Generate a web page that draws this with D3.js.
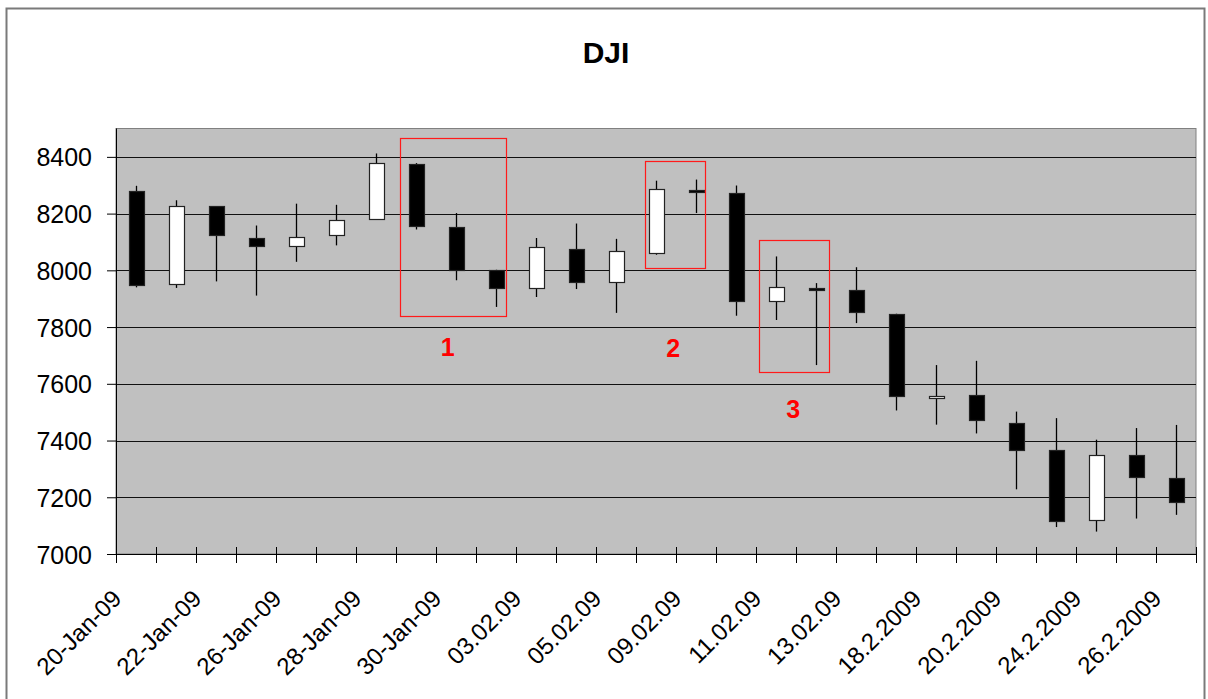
<!DOCTYPE html>
<html>
<head>
<meta charset="utf-8">
<script src="https://cdn.jsdelivr.net/npm/d3@7"></script>
<style>
  html, body { margin: 0; padding: 0; background: #fff; }
  svg { display: block; font-family: Arial, "Liberation Sans", sans-serif; }
</style>
</head>
<body>
<svg id="chart" width="1208" height="699"></svg>
<script>
// Trading days shown on the category axis
const categories = [
  "20-Jan-09", "21-Jan-09", "22-Jan-09", "23-Jan-09", "26-Jan-09", "27-Jan-09",
  "28-Jan-09", "29-Jan-09", "30-Jan-09", "02.02.09", "03.02.09", "04.02.09",
  "05.02.09", "06.02.09", "09.02.09", "10.02.09", "11.02.09", "12.02.09",
  "13.02.09", "17.2.2009", "18.2.2009", "19.2.2009", "20.2.2009", "23.2.2009",
  "24.2.2009", "25.2.2009", "26.2.2009"
];

// Daily open / high / low / close of the index
const openVals  = [8280, 7952, 8226, 8114, 8086, 8125, 8183, 8375, 8153, 8000, 7938, 8075, 7958, 8061,
                   8284, 8273, 7892, 7936, 7932, 7847, 7551, 7559, 7463, 7365, 7121, 7350, 7269];
const highVals  = [8298, 8247, 8226, 8158, 8235, 8231, 8412, 8378, 8202, 8002, 8114, 8165, 8111, 8316,
                   8320, 8299, 8049, 7955, 8011, 7847, 7666, 7681, 7502, 7479, 7403, 7444, 7455];
const lowVals   = [7940, 7938, 7961, 7911, 8030, 8088, 8180, 8144, 7965, 7871, 7906, 7934, 7850, 8055,
                   8202, 7840, 7825, 7666, 7814, 7506, 7456, 7425, 7228, 7095, 7079, 7125, 7138];
const closeVals = [7950, 8228, 8124, 8086, 8118, 8178, 8379, 8155, 8002, 7938, 8083, 7960, 8067, 8285,
                   8276, 7892, 7940, 7932, 7853, 7558, 7558, 7472, 7368, 7116, 7350, 7273, 7185];

// Value axis
const yTicks = [7000, 7200, 7400, 7600, 7800, 8000, 8200, 8400];
const yDomain = [7000, 8500];

// Category labels printed under the axis (every second day)
const xTickLabels = [
  "20-Jan-09", "22-Jan-09", "26-Jan-09", "28-Jan-09", "30-Jan-09", "03.02.09", "05.02.09",
  "09.02.09", "11.02.09", "13.02.09", "18.2.2009", "20.2.2009", "24.2.2009", "26.2.2009"
];

// Highlighted groups: category span [from, to] and value span [top, bottom]
const boxFrom   = [7.1, 13.23, 16.08];
const boxTo     = [9.74, 14.72, 17.83];
const boxTop    = [8467, 8386, 8107];
const boxBottom = [7838, 8008, 7640];
const boxNames  = ["1", "2", "3"];
const boxNameAt = [8.29, 13.93, 16.93];
const boxNameY  = [7697, 7696, 7481];

const svg = d3.select("#chart");
const W = 1208, H = 699;
const plot = { left: 116, right: 1196, top: 128.5, bottom: 554 };

// Chart frame
svg.append("rect")
  .attr("x", 6.5).attr("y", 8.5).attr("width", 1198).attr("height", 700)
  .attr("fill", "#fff").attr("stroke", "#7a7a7a").attr("stroke-width", 2);

// Title
svg.append("text")
  .attr("x", 606).attr("y", 63)
  .attr("text-anchor", "middle")
  .attr("font-size", 30).attr("font-weight", "bold")
  .text("DJI");

const x = d3.scaleBand().domain(categories).range([plot.left, plot.right]).paddingInner(0).paddingOuter(0);
const xc = d3.scaleLinear().domain([0, categories.length]).range([plot.left, plot.right]);
const y = d3.scaleLinear().domain(yDomain).range([plot.bottom, plot.top]);

// Plot area
svg.append("rect")
  .attr("x", plot.left).attr("y", plot.top)
  .attr("width", plot.right - plot.left).attr("height", plot.bottom - plot.top)
  .attr("fill", "#c0c0c0").attr("stroke", "#808080").attr("stroke-width", 1);

// Horizontal gridlines
svg.append("g")
  .selectAll("line")
  .data(yTicks.filter(v => v > yDomain[0]))
  .join("line")
  .attr("x1", plot.left).attr("x2", plot.right)
  .attr("y1", d => Math.round(y(d)) + 0.5).attr("y2", d => Math.round(y(d)) + 0.5)
  .attr("stroke", "#111").attr("stroke-width", 1);

// Value axis
const yAxis = svg.append("g")
  .attr("transform", `translate(${plot.left},0)`)
  .call(d3.axisLeft(y).tickValues(yTicks).tickSize(9).tickSizeOuter(0).tickPadding(15).tickFormat(d3.format("d")));
yAxis.select(".domain").attr("stroke", "#000").attr("d", `M0.5,${plot.top}V${plot.bottom}`);
yAxis.selectAll(".tick line").attr("stroke", "#000");
yAxis.selectAll(".tick text")
  .attr("font-size", 25).attr("font-family", "Arial, 'Liberation Sans', sans-serif")
  .attr("fill", "#000").attr("dy", "0.36em");

// Category axis line and boundary ticks
svg.append("line")
  .attr("x1", plot.left).attr("x2", plot.right)
  .attr("y1", plot.bottom + 0.5).attr("y2", plot.bottom + 0.5)
  .attr("stroke", "#000");
svg.append("g")
  .selectAll("line")
  .data(d3.range(categories.length + 1))
  .join("line")
  .attr("x1", i => Math.round(xc(i)) + 0.5).attr("x2", i => Math.round(xc(i)) + 0.5)
  .attr("y1", plot.bottom - 7).attr("y2", plot.bottom + 9)
  .attr("stroke", "#000");

// Rotated category labels
svg.append("g")
  .selectAll("text")
  .data(xTickLabels)
  .join("text")
  .attr("transform", d => `translate(${x(d) + x.bandwidth() / 2 - 13},600) rotate(-45)`)
  .attr("text-anchor", "end")
  .attr("font-size", 24)
  .text(d => d);

// Candles
const candles = categories.map((c, i) => ({
  c, o: openVals[i], h: highVals[i], l: lowVals[i], cl: closeVals[i]
}));
const bodyW = 15;
const g = svg.append("g");
g.selectAll("line.wick")
  .data(candles)
  .join("line")
  .attr("class", "wick")
  .attr("x1", d => Math.round(x(d.c) + x.bandwidth() / 2) + 0.5)
  .attr("x2", d => Math.round(x(d.c) + x.bandwidth() / 2) + 0.5)
  .attr("y1", d => y(d.h)).attr("y2", d => y(d.l))
  .attr("stroke", "#000").attr("stroke-width", 1.3);
g.selectAll("rect.body")
  .data(candles)
  .join("rect")
  .attr("class", "body")
  .attr("x", d => Math.round(x(d.c) + x.bandwidth() / 2 - bodyW / 2) + 0.5)
  .attr("y", d => Math.round(y(Math.max(d.o, d.cl))) + 0.5)
  .attr("width", bodyW)
  .attr("height", d => Math.max(2, Math.round(Math.abs(y(d.o) - y(d.cl)))))
  .attr("fill", d => d.cl < d.o ? "#000" : "#fff")
  .attr("stroke", "#222").attr("stroke-width", 1.2);

// Highlight boxes
const ann = svg.append("g");
ann.selectAll("rect")
  .data(boxNames.map((n, i) => i))
  .join("rect")
  .attr("x", i => Math.round(xc(boxFrom[i])) + 0.5)
  .attr("y", i => Math.round(y(boxTop[i])) + 0.5)
  .attr("width", i => Math.round(xc(boxTo[i]) - xc(boxFrom[i])))
  .attr("height", i => Math.round(y(boxBottom[i]) - y(boxTop[i])))
  .attr("fill", "none").attr("stroke", "#ff1a1a").attr("stroke-width", 1.2);
ann.selectAll("text")
  .data(boxNames.map((n, i) => i))
  .join("text")
  .attr("x", i => xc(boxNameAt[i]))
  .attr("y", i => y(boxNameY[i]))
  .attr("text-anchor", "middle")
  .attr("font-size", 25).attr("font-weight", "bold")
  .attr("fill", "#ff0000")
  .text(i => boxNames[i]);
</script>
</body>
</html>
